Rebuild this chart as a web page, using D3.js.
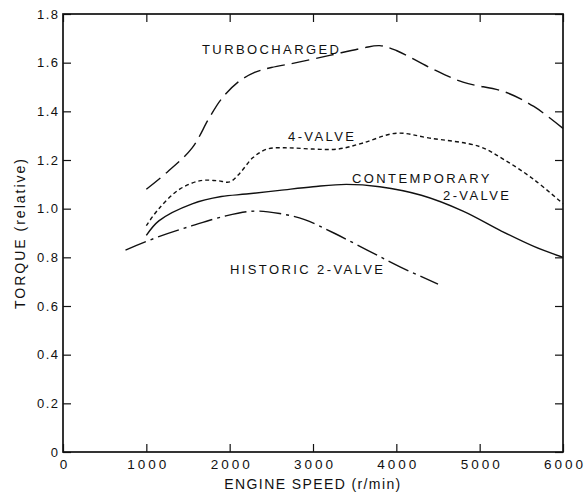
<!DOCTYPE html>
<html>
<head>
<meta charset="utf-8">
<script src="https://cdn.jsdelivr.net/npm/d3@7"></script>
<style>
  body { margin: 0; background: #fff; }
  svg { display: block; font-family: "Liberation Sans", Arial, Helvetica, sans-serif; }
  .tick text { fill: #111; }
</style>
</head>
<body>
<svg id="chart" width="586" height="494"></svg>
<script>
// engine speed (r/min) and relative torque
var turboRpm = [1000, 1250, 1550, 1750, 1900, 2100, 2300, 2500, 2800, 3200, 3600, 3800, 4000, 4400, 4800, 5300, 5650, 6000];
var turboTorque = [1.08, 1.15, 1.25, 1.37, 1.45, 1.52, 1.56, 1.58, 1.60, 1.63, 1.66, 1.67, 1.65, 1.58, 1.52, 1.48, 1.42, 1.33];

var fourValveRpm = [1000, 1150, 1400, 1650, 1850, 2000, 2120, 2280, 2450, 2700, 3000, 3300, 3600, 4000, 4400, 5000, 5300, 5650, 6000];
var fourValveTorque = [0.93, 1.00, 1.08, 1.115, 1.115, 1.11, 1.145, 1.21, 1.245, 1.25, 1.245, 1.245, 1.27, 1.31, 1.29, 1.255, 1.20, 1.12, 1.02];

var contempRpm = [1000, 1150, 1550, 1900, 2200, 2600, 3000, 3400, 3800, 4300, 4800, 5250, 5650, 6000];
var contempTorque = [0.89, 0.95, 1.02, 1.05, 1.06, 1.075, 1.09, 1.10, 1.09, 1.055, 0.99, 0.91, 0.845, 0.80];

var historicRpm = [750, 1150, 1550, 1950, 2300, 2600, 2900, 3250, 3650, 4050, 4500];
var historicTorque = [0.83, 0.885, 0.93, 0.97, 0.99, 0.98, 0.955, 0.90, 0.83, 0.76, 0.69];

var xTicks = [0, 1000, 2000, 3000, 4000, 5000, 6000];
var yTicks = [0, 0.2, 0.4, 0.6, 0.8, 1.0, 1.2, 1.4, 1.6, 1.8];

var svg = d3.select("#chart");
var margin = {top: 14, right: 23, bottom: 42, left: 63};
var width = 586 - margin.left - margin.right;
var height = 494 - margin.top - margin.bottom;

var x = d3.scaleLinear().domain([0, 6000]).range([0, width]);
var y = d3.scaleLinear().domain([0, 1.8]).range([height, 0]);

var g = svg.append("g").attr("transform", "translate(" + margin.left + "," + margin.top + ")");

// axes with inward ticks on all four sides
var axBottom = g.append("g").attr("transform", "translate(0," + height + ")")
  .call(d3.axisBottom(x).tickValues(xTicks).tickSize(-8).tickPadding(7).tickFormat(function(d) { return d; }));
var axTop = g.append("g").call(d3.axisTop(x).tickValues(xTicks).tickSize(-8).tickFormat(""));
var axLeft = g.append("g")
  .call(d3.axisLeft(y).tickValues(yTicks).tickSize(-8).tickPadding(5)
    .tickFormat(function(d) { return d === 0 ? "0" : d3.format(".1f")(d); }));
var axRight = g.append("g").attr("transform", "translate(" + width + ",0)")
  .call(d3.axisRight(y).tickValues(yTicks).tickSize(-8).tickFormat(""));

[axBottom, axTop, axLeft, axRight].forEach(function(a) {
  a.select(".domain").remove();
  a.selectAll(".tick line").attr("stroke", "#111").attr("stroke-width", 1.2);
});
axBottom.selectAll("text").attr("font-size", 13.5).attr("letter-spacing", "3px").attr("dx", "1.5px");
axLeft.selectAll("text").attr("font-size", 13).attr("letter-spacing", "1.5px").attr("dx", "1.5px");

g.append("rect")
  .attr("width", width).attr("height", height)
  .attr("fill", "none").attr("stroke", "#111").attr("stroke-width", 1.7);

var line = d3.line()
  .x(function(d) { return x(d[0]); })
  .y(function(d) { return y(d[1]); })
  .curve(d3.curveCatmullRom.alpha(0.5));

var series = [
  {rpm: turboRpm, torque: turboTorque, dash: "18,7"},
  {rpm: fourValveRpm, torque: fourValveTorque, dash: "4,3"},
  {rpm: contempRpm, torque: contempTorque, dash: null},
  {rpm: historicRpm, torque: historicTorque, dash: "22,5,3,5"}
];

g.selectAll(".curve").data(series).enter().append("path")
  .attr("class", "curve")
  .attr("d", function(s) { return line(d3.zip(s.rpm, s.torque)); })
  .attr("fill", "none")
  .attr("stroke", "#111")
  .attr("stroke-width", 1.4)
  .attr("stroke-dasharray", function(s) { return s.dash; });

// curve labels, anchored in data units
var curveLabels = [
  {text: "TURBOCHARGED", at: [1668, 1.636]},
  {text: "4-VALVE", at: [2700, 1.278]},
  {text: "CONTEMPORARY", at: [3468, 1.106]},
  {text: "2-VALVE", at: [4560, 1.036]},
  {text: "HISTORIC 2-VALVE", at: [2004, 0.73]}
];

g.selectAll(".lbl").data(curveLabels).enter().append("text")
  .attr("class", "lbl")
  .attr("x", function(d) { return x(d.at[0]); })
  .attr("y", function(d) { return y(d.at[1]); })
  .attr("font-size", 13)
  .attr("letter-spacing", "2.4px")
  .attr("fill", "#111")
  .text(function(d) { return d.text; });

// axis titles
svg.append("text")
  .attr("x", margin.left + width / 2)
  .attr("y", 489)
  .attr("text-anchor", "middle")
  .attr("font-size", 14)
  .attr("letter-spacing", "1.4px")
  .attr("fill", "#111")
  .text("ENGINE SPEED (r/min)");

svg.append("text")
  .attr("transform", "translate(25," + (margin.top + height / 2) + ") rotate(-90)")
  .attr("text-anchor", "middle")
  .attr("font-size", 14)
  .attr("letter-spacing", "2px")
  .attr("fill", "#111")
  .text("TORQUE (relative)");
</script>
</body>
</html>
